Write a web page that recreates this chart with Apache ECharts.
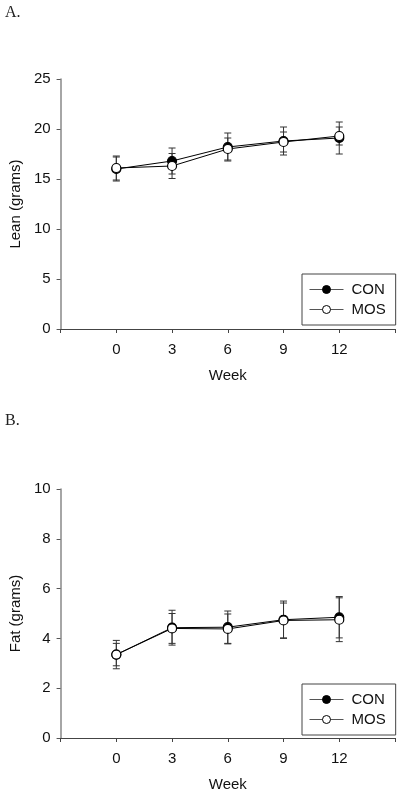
<!DOCTYPE html>
<html>
<head>
<meta charset="utf-8">
<script src="https://cdn.jsdelivr.net/npm/echarts@6/dist/echarts.min.js"></script>
<style>
html,body{margin:0;padding:0;background:#fff;}
#chart{width:400px;height:795px;}
</style>
</head>
<body>
<div id="chart"></div>
<script>
// ---- data ----
var weeks = [0, 3, 6, 9, 12];
var xTicks = [0, 3, 6, 9, 12];
var leanCon = [16.0, 16.8, 18.2, 18.8, 19.1];
var leanConErr = [1.2, 1.3, 1.4, 1.4, 1.6];
var leanMos = [16.1, 16.3, 18.0, 18.7, 19.3];
var leanMosErr = [1.2, 1.25, 1.1, 1.0, 0.9];
var fatCon = [3.35, 4.43, 4.45, 4.75, 4.85];
var fatConErr = [0.57, 0.7, 0.65, 0.75, 0.83];
var fatMos = [3.35, 4.4, 4.38, 4.72, 4.75];
var fatMosErr = [0.45, 0.6, 0.6, 0.7, 0.88];
var seriesNames = ['CON', 'MOS'];

var FONT = "'Liberation Sans', Arial, sans-serif";
var TXT = '#111';

function pairs(ys) { return weeks.map(function (w, i) { return [w, ys[i]]; }); }
function errs(ys, es) { return weeks.map(function (w, i) { return [w, ys[i] - es[i], ys[i] + es[i]]; }); }

function errRender(params, api) {
  var x = api.value(0);
  var top = api.coord([x, api.value(2)]);
  var bot = api.coord([x, api.value(1)]);
  var hw = 3.5;
  var st = { stroke: '#333', lineWidth: 1 };
  return {
    type: 'group',
    children: [
      { type: 'line', shape: { x1: top[0], y1: top[1], x2: bot[0], y2: bot[1] }, style: st },
      { type: 'line', shape: { x1: top[0] - hw, y1: top[1], x2: top[0] + hw, y2: top[1] }, style: st },
      { type: 'line', shape: { x1: bot[0] - hw, y1: bot[1], x2: bot[0] + hw, y2: bot[1] }, style: st }
    ]
  };
}

function xAxisCfg(gi) {
  return {
    gridIndex: gi, type: 'value', min: -3, max: 15, interval: 3,
    name: 'Week', nameLocation: 'middle', nameGap: 39,
    nameTextStyle: { fontFamily: FONT, fontSize: 15, color: TXT },
    axisLine: { show: true, onZero: false, lineStyle: { color: '#444', width: 1 } },
    axisTick: { show: true, inside: false, length: 4, lineStyle: { color: '#444' } },
    axisLabel: {
      margin: 13, fontFamily: FONT, fontSize: 15, color: TXT,
      formatter: function (v) { return xTicks.indexOf(v) >= 0 ? String(v) : ''; }
    },
    splitLine: { show: false }
  };
}
function yAxisCfg(gi, max, interval, name) {
  return {
    gridIndex: gi, type: 'value', min: 0, max: max, interval: interval,
    name: name, nameLocation: 'middle', nameGap: 31,
    nameTextStyle: { fontFamily: FONT, fontSize: 15, color: TXT },
    axisLine: { show: true, onZero: false, lineStyle: { color: '#888', width: 1.5 } },
    axisTick: { show: true, length: 4, lineStyle: { color: '#555' } },
    axisLabel: { margin: 10, fontFamily: FONT, fontSize: 15, color: TXT },
    splitLine: { show: false }
  };
}
function lineSeries(name, gi, ys, filled) {
  return {
    name: name, type: 'line', xAxisIndex: gi, yAxisIndex: gi,
    data: pairs(ys), symbol: 'circle', symbolSize: 9,
    z: filled ? 3 : 4,
    lineStyle: { color: '#000', width: 1 },
    itemStyle: { color: filled ? '#000' : '#fff', borderColor: '#000', borderWidth: 1.2 },
    emphasis: { disabled: true }
  };
}
function errSeries(name, gi, ys, es) {
  return {
    name: name + ' err', type: 'custom', xAxisIndex: gi, yAxisIndex: gi,
    data: errs(ys, es), renderItem: errRender, z: 2, silent: true
  };
}
function legendCfg(top) {
  return {
    data: seriesNames, orient: 'vertical', left: 302, top: top,
    padding: [8, 10, 8, 7], itemGap: 5, itemWidth: 34, itemHeight: 10,
    borderColor: '#444', borderWidth: 1,
    lineStyle: { width: 1, color: '#555' },
    itemStyle: { borderWidth: 1 },
    textStyle: { fontFamily: FONT, fontSize: 15, color: TXT, padding: [0, 0, 0, 3] }
  };
}

var chart = echarts.init(document.getElementById('chart'), null, { renderer: 'canvas' });
chart.setOption({
  animation: false,
  backgroundColor: '#fff',
  graphic: [
    { type: 'text', left: 5, top: 5, style: { text: 'A.', font: "16px 'Liberation Serif', 'Times New Roman', serif", fill: '#222' } },
    { type: 'text', left: 5, top: 413, style: { text: 'B.', font: "16px 'Liberation Serif', 'Times New Roman', serif", fill: '#222' } }
  ],
  grid: [
    { left: 59, top: 79, width: 336, height: 250 },
    { left: 59, top: 489, width: 336, height: 249 }
  ],
  legend: [legendCfg(274), legendCfg(684)],
  xAxis: [xAxisCfg(0), xAxisCfg(1)],
  yAxis: [yAxisCfg(0, 25, 5, 'Lean (grams)'), yAxisCfg(1, 10, 2, 'Fat (grams)')],
  series: [
    errSeries('CON', 0, leanCon, leanConErr),
    errSeries('MOS', 0, leanMos, leanMosErr),
    lineSeries('CON', 0, leanCon, true),
    lineSeries('MOS', 0, leanMos, false),
    errSeries('CON', 1, fatCon, fatConErr),
    errSeries('MOS', 1, fatMos, fatMosErr),
    lineSeries('CON', 1, fatCon, true),
    lineSeries('MOS', 1, fatMos, false)
  ]
});
</script>
</body>
</html>
